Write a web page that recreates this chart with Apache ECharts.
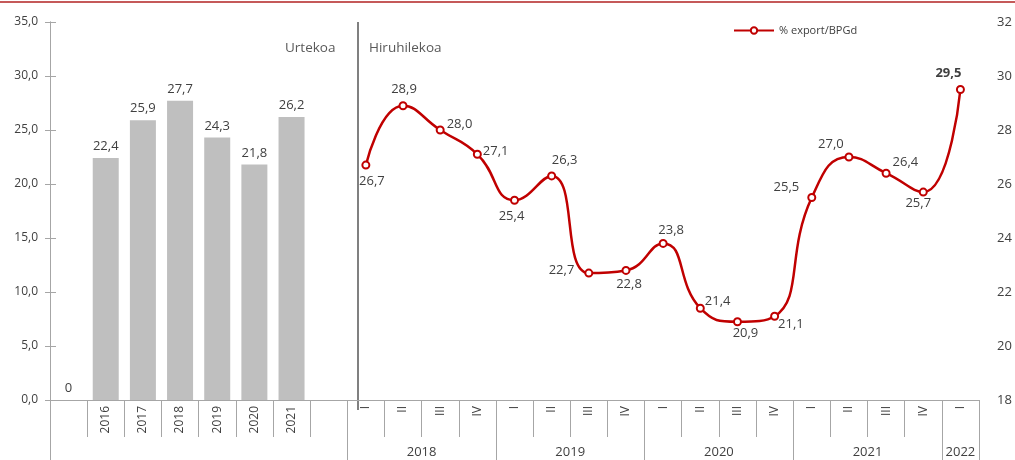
<!DOCTYPE html>
<html>
<head>
<meta charset="utf-8">
<script src="https://cdn.jsdelivr.net/npm/echarts@6/dist/echarts.min.js"></script>
<style>
  html, body { margin: 0; padding: 0; background: #fff; }
  #chart { width: 1015px; height: 460px; }
</style>
</head>
<body>
<div id="chart"></div>
<script>
// urteko datuak (barrak)
const years = ['', '2016', '2017', '2018', '2019', '2020', '2021', ''];
const annualVals = [0, 22.4, 25.9, 27.7, 24.3, 21.8, 26.2, null];

// hiruhileko datuak (lerroa)
const quarterLabels = ['I', 'II', 'III', 'IV', 'I', 'II', 'III', 'IV', 'I', 'II', 'III', 'IV', 'I', 'II', 'III', 'IV', 'I'];
const quarterYears = ['2018', '2018', '2018', '2018', '2019', '2019', '2019', '2019',
  '2020', '2020', '2020', '2020', '2021', '2021', '2021', '2021', '2022'];
const quarterVals = [26.7, 28.9, 28.0, 27.1, 25.4, 26.3, 22.7, 22.8, 23.8, 21.4, 20.9, 21.1, 25.5, 27.0, 26.4, 25.7, 29.5];

const leftTicks = [0, 35, 5];
const rightTicks = [18, 32, 2];

// etiketen kokapena puntu bakoitzeko
const lblPos = [['bottom', [6, 0]], ['top', [1, 0]], ['right', [-3, -6]], ['right', [-4, -3]],
  ['bottom', [-3, 0]], ['top', [13, 0]], ['left', [-5, -3]], ['bottom', [3, -2]],
  ['top', [8, 3]], ['right', [-5, -7]], ['bottom', [8, -4]], ['right', [-6, 8]],
  ['left', [-3, -10]], ['top', [-18, 3]], ['right', [-3, -11]], ['bottom', [-5, -5]], ['top', [-12, 0]]];

const nA = years.length;
const cats = years.concat(quarterLabels);
const nAll = cats.length;

const fmt = v => v.toFixed(1).replace('.', ',');

// urte taldeak behealdean
const groupStart = [], groupName = [];
quarterYears.forEach((y, i) => {
  if (i === 0 || quarterYears[i - 1] !== y) { groupStart.push(nA + i); groupName.push(y); }
});
const groupEnd = groupStart.slice(1).concat([nAll]);
const groupMid = groupStart.map((s, i) => (s + groupEnd[i]) / 2);
const longTicks = [0, nA].concat(groupStart.slice(1), [nAll]);
const shortTicks = [];
for (let i = 1; i < nAll; i++) if (longTicks.indexOf(i) < 0) shortTicks.push(i);

const barData = annualVals.concat(quarterVals.map(() => null));
const lineData = annualVals.map(() => null).concat(quarterVals.map((v, i) => ({
  value: v,
  label: {
    position: lblPos[i][0],
    offset: lblPos[i][1],
    fontWeight: i === quarterVals.length - 1 ? 'bold' : 'normal'
  }
})));

const font = 'Open Sans';
const axisGray = '#A6A6A6';
const txt = '#404040';

let myChart = echarts.init(document.getElementById('chart'));
myChart.setOption({
  animation: false,
  textStyle: { fontFamily: font },
  grid: { left: 50, right: 36, top: 22, bottom: 60 },
  legend: {
    left: 728, top: 20,
    itemWidth: 40, itemHeight: 8, itemGap: 4,
    data: ['% export/BPGd'],
    textStyle: { fontSize: 11, color: txt, fontFamily: font }
  },
  xAxis: [
    {
      type: 'category', data: cats, boundaryGap: true,
      axisLine: { lineStyle: { color: axisGray } },
      axisTick: { inside: true, length: 4, alignWithLabel: true, lineStyle: { color: axisGray } },
      axisLabel: { rotate: 90, margin: 6, fontSize: 12, color: txt, interval: 0 }
    },
    {
      type: 'value', min: 0, max: nAll, position: 'bottom',
      axisLine: { show: false }, splitLine: { show: false },
      axisTick: { show: true, length: 37, customValues: shortTicks, lineStyle: { color: axisGray } },
      axisLabel: { show: false }
    },
    {
      type: 'value', min: 0, max: nAll, position: 'bottom',
      axisLine: { show: false }, splitLine: { show: false },
      axisTick: { show: true, length: 60, customValues: longTicks, lineStyle: { color: axisGray } },
      axisLabel: {
        show: true, customValues: groupMid, margin: 46, fontSize: 13, color: txt,
        formatter: v => groupName[groupMid.indexOf(v)] || ''
      }
    }
  ],
  yAxis: [
    {
      type: 'value', min: leftTicks[0], max: leftTicks[1], interval: leftTicks[2],
      axisLine: { show: true, lineStyle: { color: axisGray } },
      axisTick: { show: true, length: 5, lineStyle: { color: axisGray } },
      splitLine: { show: false },
      axisLabel: { formatter: fmt, fontSize: 12, color: txt, margin: 12 }
    },
    {
      type: 'value', min: rightTicks[0], max: rightTicks[1], interval: rightTicks[2],
      position: 'right',
      axisLine: { show: true, lineStyle: { color: axisGray } },
      axisTick: { show: true, length: 6, lineStyle: { color: axisGray } },
      splitLine: { show: false },
      axisLabel: { fontSize: 13, color: txt, margin: 18 }
    }
  ],
  series: [
    {
      name: 'Urtekoa', type: 'bar', data: barData, barWidth: 26,
      itemStyle: { color: '#BFBFBF' },
      label: {
        show: true, position: 'top', fontSize: 13, color: txt,
        formatter: p => p.value === 0 ? '0' : fmt(p.value)
      }
    },
    {
      name: '% export/BPGd', type: 'line', yAxisIndex: 1, data: lineData,
      smooth: 0.5,
      lineStyle: { color: '#C00000', width: 2.5 },
      itemStyle: { color: '#C00000', borderWidth: 1.5 },
      symbol: 'emptyCircle', symbolSize: 7,
      label: { show: true, fontSize: 13, color: txt, formatter: p => fmt(p.value) }
    }
  ],
  graphic: [
    { type: 'line', shape: { x1: 0, y1: 2, x2: 1015, y2: 2 }, style: { stroke: '#B22222', lineWidth: 1.5 } },
    { type: 'line', shape: { x1: 358, y1: 22, x2: 358, y2: 410 }, style: { stroke: '#808080', lineWidth: 2 } },
    { type: 'text', left: 285, top: 41, style: { text: 'Urtekoa', fontSize: 13.5, fill: '#595959', fontFamily: font } },
    { type: 'text', left: 369, top: 41, style: { text: 'Hiruhilekoa', fontSize: 13.5, fill: '#595959', fontFamily: font } }
  ]
});
</script>
</body>
</html>
